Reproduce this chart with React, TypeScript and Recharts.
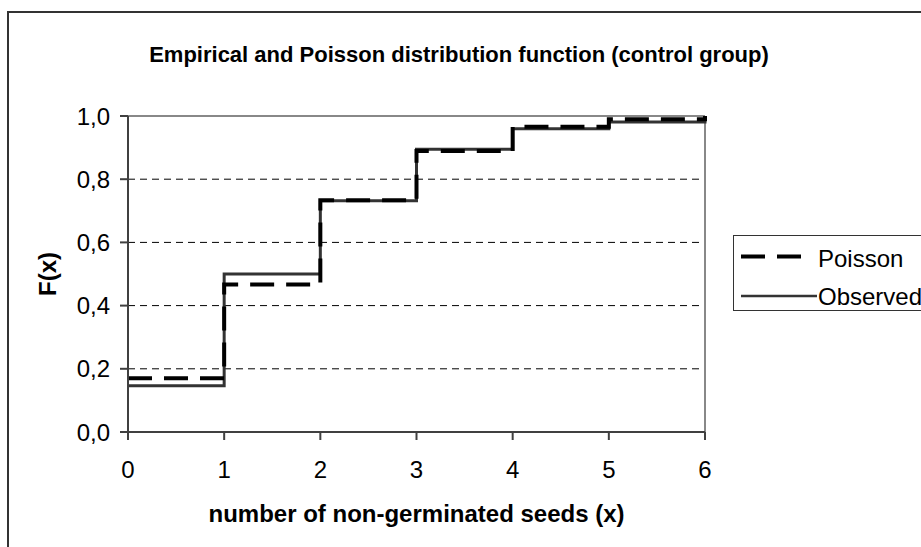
import React from "react";
import {
  LineChart,
  Line,
  XAxis,
  YAxis,
  CartesianGrid,
  ReferenceLine,
  Legend,
  Label,
} from "recharts";

const xValues = [0, 1, 2, 3, 4, 5, 6];
const poissonValues = [0.17, 0.467, 0.733, 0.889, 0.966, 0.99, 1.0];
const observedValues = [0.146, 0.5, 0.732, 0.895, 0.96, 0.981, 1.0];
const yTicks = [0, 0.2, 0.4, 0.6, 0.8, 1.0];
const gridValues = [0.2, 0.4, 0.6, 0.8];

const titleText = "Empirical and Poisson distribution function (control group)";
const xTitle = "number of non-germinated seeds (x)";
const yTitle = "F(x)";

const data = xValues.map((x, i) => ({
  x,
  poisson: poissonValues[i],
  observed: observedValues[i],
}));

const FONT = "'Liberation Sans', Arial, sans-serif";

const renderLegend = () => (
  <div
    style={{
      width: 220,
      height: 76,
      border: "1px solid #333",
      background: "#fff",
      boxSizing: "border-box",
      position: "relative",
    }}
  >
    <svg width={220} height={76} style={{ position: "absolute", left: 0, top: 0 }}>
      <line x1={7} x2={67} y1={20.5} y2={20.5} stroke="#000" strokeWidth={4} strokeDasharray="24 12" />
      <text x={84} y={31} fontFamily={FONT} fontSize={24} fill="#000">Poisson</text>
      <line x1={7} x2={83} y1={60} y2={60} stroke="#333" strokeWidth={2.5} />
      <text x={84} y={69} fontFamily={FONT} fontSize={24} fill="#000">Observed</text>
    </svg>
  </div>
);

export default function App() {
  return (
    <div style={{ position: "relative", width: 921, height: 547, overflow: "hidden", background: "#fff" }}>
      <style>{"body{margin:0;}"}</style>
      <div
        style={{
          position: "absolute",
          left: 7,
          top: 11,
          width: 1200,
          height: 1200,
          border: "2px solid #333",
        }}
      />
      <div style={{ position: "absolute", left: 0, top: 0 }}>
        <LineChart
          width={921}
          height={547}
          data={data}
          margin={{ top: 116, right: 216, bottom: 20, left: 0 }}
        >
          <text
            x={459}
            y={62}
            textAnchor="middle"
            fontFamily={FONT}
            fontSize={22}
            fontWeight="bold"
            fill="#000"
          >
            {titleText}
          </text>
          <CartesianGrid
            horizontal
            vertical={false}
            horizontalValues={gridValues}
            stroke="#000"
            strokeWidth={1}
            strokeDasharray="7 5"
          />
          <ReferenceLine y={1} stroke="#888" strokeWidth={2} />
          <ReferenceLine x={6} stroke="#888" strokeWidth={2} />
          <XAxis
            dataKey="x"
            type="number"
            domain={[0, 6]}
            ticks={xValues}
            allowDecimals={false}
            height={95}
            stroke="#404040"
            strokeWidth={2}
            tickSize={8}
            tickMargin={21}
            tick={{ fill: "#000", fontSize: 24, fontFamily: FONT }}
          >
            <Label
              content={(props: any) => {
                const vb = props.viewBox || {};
                return (
                  <text
                    x={vb.x + vb.width / 2}
                    y={vb.y + 90}
                    textAnchor="middle"
                    fontFamily={FONT}
                    fontSize={24}
                    fontWeight="bold"
                    fill="#000"
                  >
                    {xTitle}
                  </text>
                );
              }}
            />
          </XAxis>
          <YAxis
            type="number"
            domain={[0, 1]}
            ticks={yTicks}
            width={128}
            stroke="#404040"
            strokeWidth={2}
            tickSize={8}
            tickMargin={10}
            tickFormatter={(v: number) => v.toFixed(1).replace(".", ",")}
            tick={{ fill: "#000", fontSize: 24, fontFamily: FONT }}
          >
            <Label
              content={(props: any) => {
                const vb = props.viewBox || {};
                const cx = 56;
                const cy = vb.y + vb.height / 2;
                return (
                  <text
                    x={cx}
                    y={cy}
                    textAnchor="middle"
                    transform={`rotate(-90, ${cx}, ${cy})`}
                    fontFamily={FONT}
                    fontSize={24}
                    fontWeight="bold"
                    fill="#000"
                  >
                    {yTitle}
                  </text>
                );
              }}
            />
          </YAxis>
          <Line
            type="stepAfter"
            dataKey="observed"
            name="Observed"
            stroke="#333"
            strokeWidth={3}
            dot={false}
            isAnimationActive={false}
          />
          <Line
            type="stepAfter"
            dataKey="poisson"
            name="Poisson"
            stroke="#000"
            strokeWidth={4}
            strokeDasharray="24 12"
            dot={false}
            isAnimationActive={false}
          />
          <Legend
            layout="horizontal"
            verticalAlign="middle"
            align="center"
            content={renderLegend}
            wrapperStyle={{ left: 733, top: 235, width: 220, height: 76 }}
          />
        </LineChart>
      </div>
    </div>
  );
}
